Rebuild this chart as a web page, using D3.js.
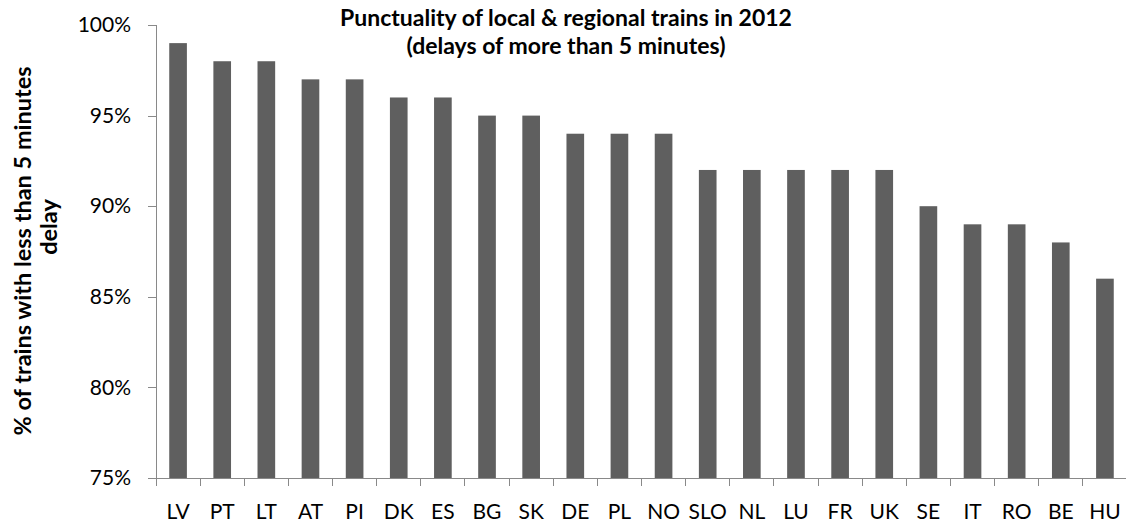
<!DOCTYPE html>
<html lang="en">
	<head>
		<meta charset="utf-8">
		<title>Punctuality of local & regional trains</title>
		<script type="text/javascript" src="https://d3js.org/d3.v7.min.js"></script>
		<style type="text/css">
			body { margin:0; background:#fff; }
			.axis path, .axis line { stroke:#898989; shape-rendering:crispEdges; }
			.axis text { font-family:Lato, "Open Sans", sans-serif; font-size:21px; fill:#000; }
			.title { font-family:Lato, "Open Sans", sans-serif; font-weight:bold; }
		</style>
	</head>
	<body>
		<svg id="chart"></svg>
		<script type="text/javascript">
			var countries = ["LV","PT","LT","AT","PI","DK","ES","BG","SK","DE","PL","NO","SLO","NL","LU","FR","UK","SE","IT","RO","BE","HU"];
			var punctuality = [99,98,98,97,97,96,96,95,95,94,94,94,92,92,92,92,92,90,89,89,88,86];
			var yTicks = [75,80,85,90,95,100];

			var w = 1126, h = 525;
			var margin = {left:156, right:-1, top:25, bottom:47};

			var svg = d3.select("#chart").attr("width", w).attr("height", h);

			var xScale = d3.scaleBand()
				.domain(countries)
				.range([margin.left, w - margin.right])
				.paddingInner(0.6)
				.paddingOuter(0.3);

			var yScale = d3.scaleLinear()
				.domain([75, 100])
				.range([h - margin.bottom, margin.top]);

			svg.selectAll("rect.bar")
				.data(countries)
				.enter()
				.append("rect")
				.attr("class", "bar")
				.attr("x", d => xScale(d))
				.attr("width", xScale.bandwidth())
				.attr("y", (d, i) => yScale(punctuality[i]))
				.attr("height", (d, i) => yScale(75) - yScale(punctuality[i]))
				.attr("fill", "#5f5f5f");

			// y axis
			var yAxis = d3.axisLeft(yScale)
				.tickValues(yTicks)
				.tickSize(8)
				.tickPadding(17)
				.tickFormat(d => d + "%");

			svg.append("g")
				.attr("class", "axis")
				.attr("transform", "translate(" + margin.left + ",0)")
				.call(yAxis)
				.call(g => g.select(".domain").attr("d", "M-8," + yScale(100) + "H0V" + yScale(75) + "H-8"));

			// x axis with ticks between categories
			var step = xScale.step();
			var edge = (step - xScale.bandwidth()) / 2;
			var boundaries = countries.map(d => xScale(d) - edge);
			boundaries.push(xScale(countries[countries.length - 1]) + xScale.bandwidth() + edge);

			var xg = svg.append("g").attr("class", "axis");
			xg.append("line")
				.attr("x1", margin.left).attr("x2", w)
				.attr("y1", yScale(75)).attr("y2", yScale(75));
			xg.selectAll("line.tick")
				.data(boundaries)
				.enter()
				.append("line")
				.attr("class", "tick")
				.attr("x1", d => d).attr("x2", d => d)
				.attr("y1", yScale(75)).attr("y2", yScale(75) + 8);
			xg.selectAll("text")
				.data(countries)
				.enter()
				.append("text")
				.attr("x", d => xScale(d) + xScale.bandwidth() / 2)
				.attr("y", 519)
				.attr("text-anchor", "middle")
				.text(d => d);

			// titles
			svg.append("text").attr("class", "title")
				.attr("x", 566).attr("y", 26).attr("text-anchor", "middle")
				.style("font-size", "23px")
				.text("Punctuality of local & regional trains in 2012");
			svg.append("text").attr("class", "title")
				.attr("x", 566).attr("y", 54).attr("text-anchor", "middle")
				.style("font-size", "23px")
				.text("(delays of more than 5 minutes)");

			svg.append("text").attr("class", "title")
				.attr("transform", "translate(31,251) rotate(-90)")
				.attr("text-anchor", "middle")
				.style("font-size", "23.5px")
				.text("% of trains with less than 5 minutes");
			svg.append("text").attr("class", "title")
				.attr("transform", "translate(57,227) rotate(-90)")
				.attr("text-anchor", "middle")
				.style("font-size", "23.5px")
				.text("delay");
		</script>
	</body>
</html>
